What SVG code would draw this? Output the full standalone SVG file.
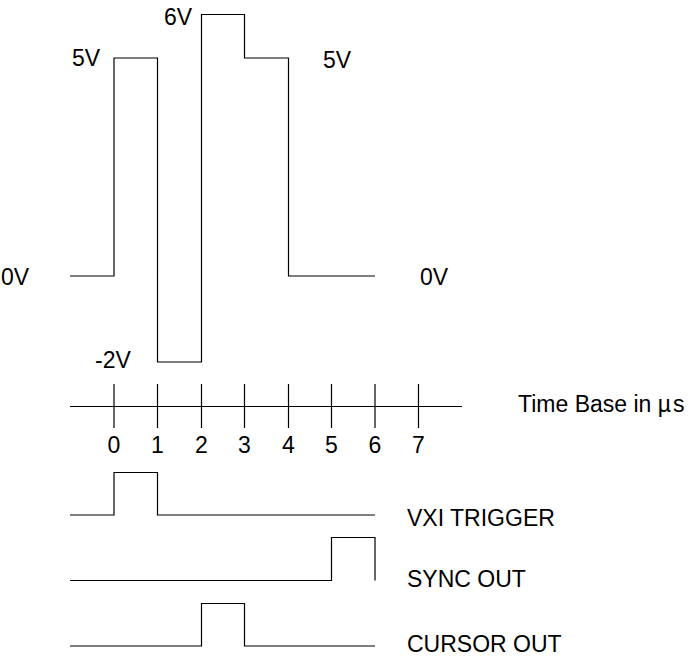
<svg xmlns="http://www.w3.org/2000/svg" width="692" height="656" viewBox="0 0 692 656">
<style>
.w{fill:none;stroke:#000;stroke-width:1.2}
.t{font-family:"Liberation Sans",Arial,sans-serif;font-size:23px;fill:#000}
.m{text-anchor:middle}
</style>
<rect width="692" height="656" fill="#fff"/>
<g id="connectors">
<path id="main-wave" class="w" d="M70,276 H114 V58 H157.5 V362 H201.5 V14.5 H244.5 V58 H288.5 V276 H375"/>
<g id="time-axis">
<path class="w" d="M70,406.5 H462"/>
<path class="w" d="M114,384 V428 M157.5,384 V428 M201.5,384 V428 M244.5,384 V428 M288.5,384 V428 M331.5,384 V428 M375,384 V428 M418.5,384 V428"/>
</g>
<path id="vxi-wave" class="w" d="M70,515 H114 V472.5 H157.5 V515 H375"/>
<path id="sync-wave" class="w" d="M70,580.5 H331.5 V537.5 H375 V580.5"/>
<path id="cursor-wave" class="w" d="M70,646 H201.5 V603.5 H244.5 V646 H375"/>
</g>
<g id="voltage-labels">
<text class="t" x="72" y="66">5V</text>
<text class="t" x="164" y="25">6V</text>
<text class="t" x="323" y="68">5V</text>
<text class="t" x="1" y="285">0V</text>
<text class="t" x="420" y="285">0V</text>
<text class="t" x="95" y="368">-2V</text>
</g>
<g id="axis-labels">
<text class="t m" x="114" y="453">0</text>
<text class="t m" x="157.5" y="453">1</text>
<text class="t m" x="201.5" y="453">2</text>
<text class="t m" x="244.5" y="453">3</text>
<text class="t m" x="288.5" y="453">4</text>
<text class="t m" x="331.5" y="453">5</text>
<text class="t m" x="375" y="453">6</text>
<text class="t m" x="418.5" y="453">7</text>
<text class="t" x="518" y="412">Time Base in µ<tspan dx="2">s</tspan></text>
</g>
<g id="signal-labels">
<text class="t" x="407" y="526">VXI TRIGGER</text>
<text class="t" x="407" y="587">SYNC OUT</text>
<text class="t" x="407" y="652">CURSOR OUT</text>
</g>
</svg>
